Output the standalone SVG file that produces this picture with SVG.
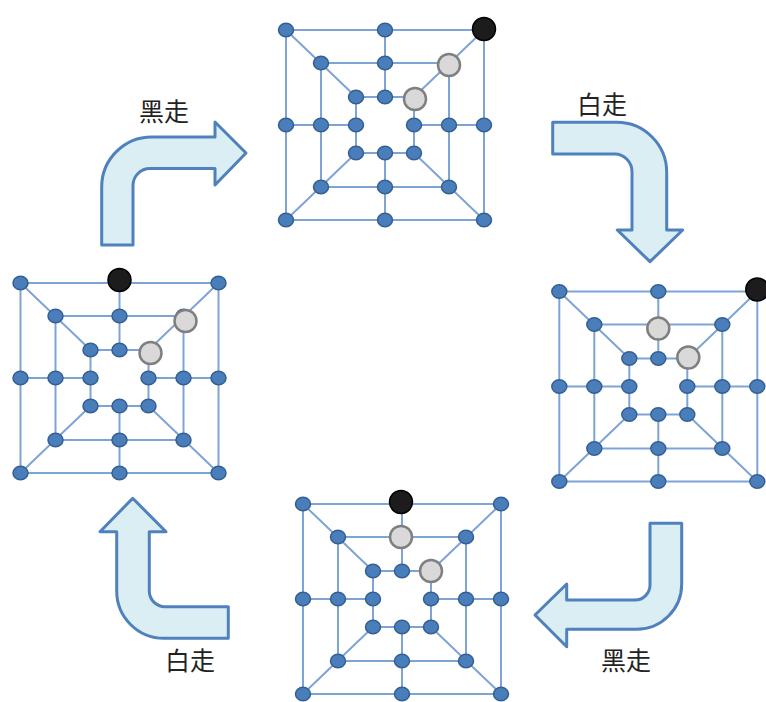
<svg xmlns="http://www.w3.org/2000/svg" xmlns:xlink="http://www.w3.org/1999/xlink" width="766" height="702" viewBox="0 0 766 702">
<style>
.ln{fill:none;stroke:#7ea4d6;stroke-width:2}
.dot{fill:#4a7ebb;stroke:#355f93;stroke-width:1.5}
.blk{fill:#1c1c1c;stroke:#000;stroke-width:1.5}
.wht{fill:#d9d9d9;stroke:#7f7f7f;stroke-width:2.5}
.arr{fill:#dbeef4;stroke:#4f81bd;stroke-width:3;stroke-linejoin:round}
.lbl{font-family:"Noto Sans CJK SC","Noto Sans CJK JP",sans-serif;font-size:25px;fill:#222;text-anchor:middle}
</style>
<defs>
<ellipse id="d" rx="7.5" ry="6.8" class="dot"/>
<g id="board">
<g class="ln">
<rect x="-99" y="-95" width="198" height="190"/>
<rect x="-64" y="-62" width="128" height="124"/>
<rect x="-29" y="-28" width="58" height="56"/>
<path d="M0,-95V-28M0,28V95M-99,0H-29M29,0H99M-99,-95L-29,-28M99,-95L29,-28M-99,95L-29,28M99,95L29,28"/>
</g>
<use xlink:href="#d" x="-99" y="-95"/><use xlink:href="#d" x="0" y="-95"/><use xlink:href="#d" x="99" y="-95"/>
<use xlink:href="#d" x="-99" y="0"/><use xlink:href="#d" x="99" y="0"/>
<use xlink:href="#d" x="-99" y="95"/><use xlink:href="#d" x="0" y="95"/><use xlink:href="#d" x="99" y="95"/>
<use xlink:href="#d" x="-64" y="-62"/><use xlink:href="#d" x="0" y="-62"/><use xlink:href="#d" x="64" y="-62"/>
<use xlink:href="#d" x="-64" y="0"/><use xlink:href="#d" x="64" y="0"/>
<use xlink:href="#d" x="-64" y="62"/><use xlink:href="#d" x="0" y="62"/><use xlink:href="#d" x="64" y="62"/>
<use xlink:href="#d" x="-29" y="-28"/><use xlink:href="#d" x="0" y="-28"/><use xlink:href="#d" x="29" y="-28"/>
<use xlink:href="#d" x="-29" y="0"/><use xlink:href="#d" x="29" y="0"/>
<use xlink:href="#d" x="-29" y="28"/><use xlink:href="#d" x="0" y="28"/><use xlink:href="#d" x="29" y="28"/>
</g>
</defs>
<g id="connectors">
<path class="arr" d="M101.7,245 L101.7,187 A50,50 0 0 1 151.7,137 L215,137 L215,122 L246,153 L215,185 L215,168.5 L150,168.5 A17,17 0 0 0 133,185.5 L133,245 Z"/>
<path class="arr" d="M552.7,122.3 L616.7,122.3 A50,50 0 0 1 666.7,172.3 L666.7,230 L682.7,230 L650,261.7 L617.3,230 L632,230 L632,172 A17.3,18 0 0 0 614.7,154 L552.7,154 Z"/>
<path class="arr" d="M650,523.3 L681.7,523.3 L681.7,584 A45,45.3 0 0 1 636.7,629.3 L566.7,629.3 L566.7,646.7 L535,615 L566.7,584 L566.7,600 L635,600 A15,15 0 0 0 650,585 Z"/>
<path class="arr" d="M228.3,606.7 L165,606.7 A15.7,15.7 0 0 1 149.3,591 L149.3,531.7 L166,531.7 L132.7,498.3 L100,531.7 L116.7,531.7 L116.7,591 A47.3,47.3 0 0 0 164,638.3 L228.3,638.3 Z"/>
<text class="lbl" x="164" y="121">黑走</text>
<text class="lbl" x="602" y="114">白走</text>
<text class="lbl" x="626" y="670">黑走</text>
<text class="lbl" x="190" y="670">白走</text>
</g>
<g id="board-top" transform="translate(385,125)">
<use xlink:href="#board"/>
<circle class="blk" cx="99" cy="-96" r="11.5"/>
<circle class="wht" cx="64" cy="-60" r="11"/>
<circle class="wht" cx="30" cy="-26" r="11"/>
</g>
<g id="board-right" transform="translate(658.3,386.5)">
<use xlink:href="#board"/>
<circle class="blk" cx="99" cy="-97" r="11.5"/>
<circle class="wht" cx="0" cy="-58" r="11"/>
<circle class="wht" cx="30" cy="-29" r="11"/>
</g>
<g id="board-bottom" transform="translate(402,599)">
<use xlink:href="#board"/>
<circle class="blk" cx="-1" cy="-97" r="11.5"/>
<circle class="wht" cx="-1" cy="-62" r="11"/>
<circle class="wht" cx="29" cy="-28" r="11"/>
</g>
<g id="board-left" transform="translate(119.5,378)">
<use xlink:href="#board"/>
<circle class="blk" cx="0" cy="-98" r="11.5"/>
<circle class="wht" cx="66" cy="-57" r="11"/>
<circle class="wht" cx="31" cy="-25" r="11"/>
</g>
</svg>
